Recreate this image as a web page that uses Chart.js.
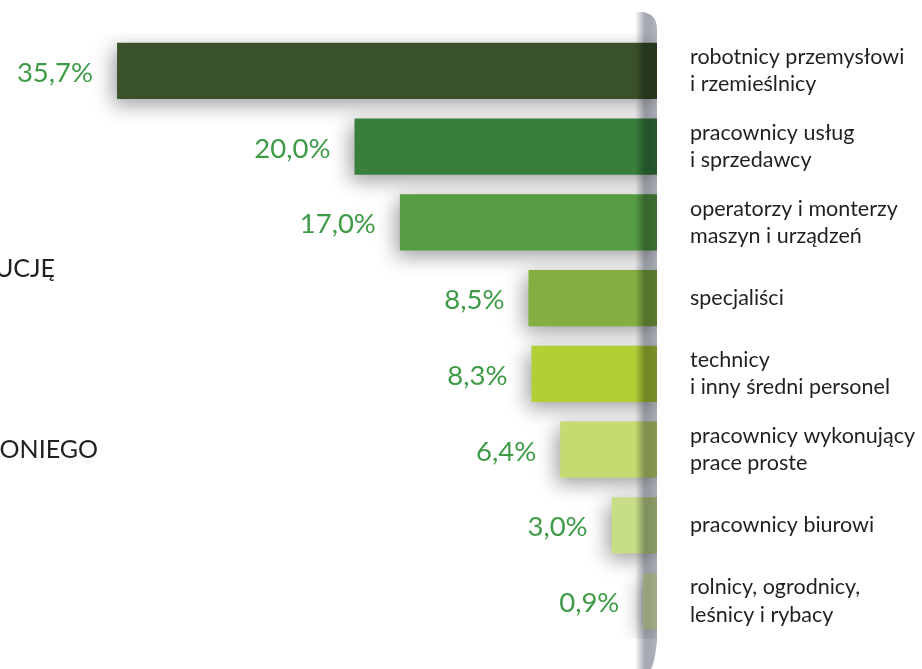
<!DOCTYPE html>
<html>
<head>
<meta charset="utf-8">
<script src="https://cdn.jsdelivr.net/npm/chart.js@4/dist/chart.umd.min.js"></script>
<style>
  html, body { margin: 0; padding: 0; background: #fff; }
  #wrap { width: 922px; height: 669px; position: relative; }
</style>
</head>
<body>
<div id="wrap"><canvas id="occChart"></canvas></div>
<script>
const categories = [
  ["robotnicy przemysłowi", "i rzemieślnicy"],
  ["pracownicy usług", "i sprzedawcy"],
  ["operatorzy i monterzy", "maszyn i urządzeń"],
  "specjaliści",
  ["technicy", "i inny średni personel"],
  ["pracownicy wykonujący", "prace proste"],
  "pracownicy biurowi",
  ["rolnicy, ogrodnicy,", "leśnicy i rybacy"]
];
const shares = [35.7, 20.0, 17.0, 8.5, 8.3, 6.4, 3.0, 0.9];
const barColors = ["#3a5229", "#387f3c", "#559c42", "#84af40", "#b0d035", "#c5da70", "#c8dd88", "#e6f6b3"];
const cutTexts = ["UCJĘ", "ONIEGO"];

const fmt = (v) => v.toFixed(1).replace(".", ",") + "%";

// soft shadow under the bars
const shadowPlugin = {
  id: "barShadow",
  beforeDatasetsDraw(chart) {
    const ctx = chart.ctx;
    ctx.save();
    ctx.shadowColor = "rgba(0,0,0,0.38)";
    ctx.shadowBlur = 20;
    ctx.shadowOffsetX = -4;
    ctx.shadowOffsetY = 6;
  },
  afterDatasetsDraw(chart) {
    chart.ctx.restore();
  }
};

// grey divider on the right of the bars + value labels + cut-off texts
const decorPlugin = {
  id: "decor",
  afterDatasetsDraw(chart) {
    const ctx = chart.ctx;
    const area = chart.chartArea;
    const r = area.right;

    ctx.save();
    ctx.globalCompositeOperation = "multiply";
    const g = ctx.createLinearGradient(r - 22, 0, r, 0);
    g.addColorStop(0, "rgba(164,168,176,0)");
    g.addColorStop(0.45, "rgba(164,168,176,1)");
    g.addColorStop(0.75, "rgba(168,171,180,1)");
    g.addColorStop(1, "rgba(178,180,188,1)");
    ctx.fillStyle = g;
    ctx.beginPath();
    ctx.moveTo(r - 22, 12);
    ctx.lineTo(r - 14, 12);
    ctx.quadraticCurveTo(r, 14, r, 30);
    ctx.lineTo(r, 640);
    ctx.quadraticCurveTo(r - 2, 662, r - 6, 669);
    ctx.lineTo(r - 22, 669);
    ctx.closePath();
    ctx.fill();
    ctx.restore();

    const meta = chart.getDatasetMeta(0);
    ctx.save();
    ctx.font = "27.5px Lato";
    ctx.fillStyle = "#3f9b48";
    ctx.textAlign = "right";
    ctx.textBaseline = "middle";
    meta.data.forEach((bar, i) => {
      ctx.fillText(fmt(shares[i]), bar.x - 24, bar.y + 2);
    });

    ctx.font = "25px Lato";
    ctx.fillStyle = "#231f20";
    ctx.fillText(cutTexts[0], 55, 269);
    ctx.fillText(cutTexts[1], 98, 450);
    ctx.restore();
  }
};

const ctx = document.getElementById("occChart").getContext("2d");
new Chart(ctx, {
  type: "bar",
  data: {
    labels: categories,
    datasets: [{
      data: shares,
      backgroundColor: barColors,
      borderWidth: 0,
      categoryPercentage: 1,
      barPercentage: 0.74
    }]
  },
  options: {
    indexAxis: "y",
    responsive: true,
    maintainAspectRatio: false,
    animation: false,
    layout: { padding: { left: 52, top: 33, bottom: 30, right: 0 } },
    plugins: {
      legend: { display: false },
      tooltip: { enabled: false }
    },
    scales: {
      x: {
        type: "linear",
        reverse: true,
        min: 0,
        max: 40,
        display: false
      },
      y: {
        position: "right",
        grid: { display: false, drawTicks: false },
        border: { display: false },
        afterFit(scale) {
          scale.width = 265;
          scale.paddingTop = 0;
          scale.paddingBottom = 0;
        },
        ticks: {
          padding: 33,
          crossAlign: "near",
          color: "#231f20",
          font: { family: "Lato", size: 21.5, lineHeight: 1.27 }
        }
      }
    }
  },
  plugins: [shadowPlugin, decorPlugin]
});
</script>
</body>
</html>
